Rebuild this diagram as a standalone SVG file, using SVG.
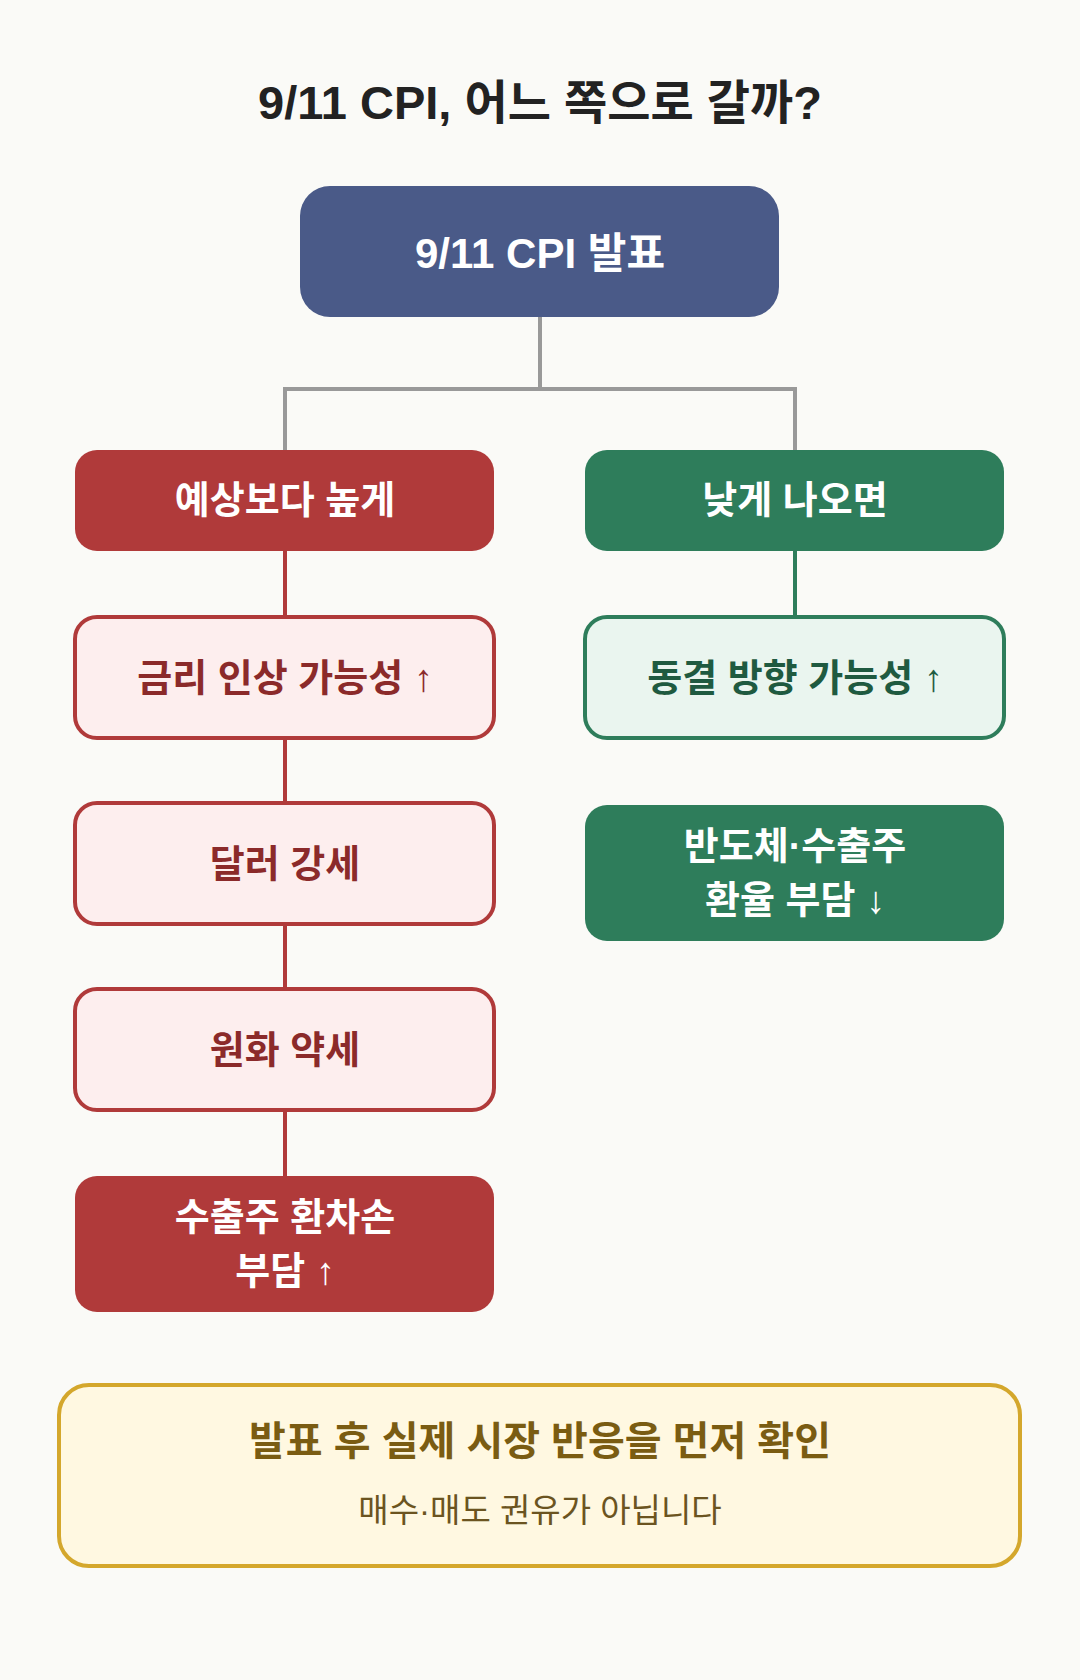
<svg xmlns="http://www.w3.org/2000/svg" width="1080" height="1680" viewBox="0 0 1080 1680">
<style>
text{font-family:"Liberation Sans","Noto Sans CJK KR",sans-serif;text-anchor:middle;dominant-baseline:central}
.t{font-size:47px;font-weight:bold;fill:#222}
.w{font-size:38px;font-weight:bold;fill:#fff}
.rl{font-size:38px;font-weight:bold;fill:#8b2a2a}
.gl{font-size:38px;font-weight:bold;fill:#1f5a40}
.conn{stroke:#999;stroke-width:4;fill:none}
.rc{stroke:#b03a3a;stroke-width:4;fill:none}
.gc{stroke:#2e7d5b;stroke-width:4;fill:none}
</style>
<rect width="1080" height="1680" fill="#fafaf7"/>
<text class="t" x="540" y="102">9/11 CPI, 어느 쪽으로 갈까?</text>
<g id="connectors">
<path class="conn" d="M540 317V389M285 450V389H795V450"/>
<path class="rc" d="M285 551V617M285 738V803M285 924V989M285 1110V1176"/>
<path class="gc" d="M795 551V617"/>
</g>
<g id="top"><rect x="300" y="186" width="479" height="131" rx="30" fill="#4a5a88"/><text class="w" x="540" y="253" style="font-size:42px">9/11 CPI 발표</text></g>
<g id="high"><rect x="75" y="450" width="419" height="101" rx="22" fill="#b03a3a"/><text class="w" x="285" y="500">예상보다 높게</text></g>
<g id="low"><rect x="585" y="450" width="419" height="101" rx="22" fill="#2e7d5b"/><text class="w" x="795" y="500">낮게 나오면</text></g>
<g id="rate"><rect x="75" y="617" width="419" height="121" rx="22" fill="#fdeeee" stroke="#b03a3a" stroke-width="4"/><text class="rl" x="285" y="678">금리 인상 가능성 ↑</text></g>
<g id="freeze"><rect x="585" y="617" width="419" height="121" rx="22" fill="#eaf5ef" stroke="#2e7d5b" stroke-width="4"/><text class="gl" x="795" y="678">동결 방향 가능성 ↑</text></g>
<g id="dollar"><rect x="75" y="803" width="419" height="121" rx="22" fill="#fdeeee" stroke="#b03a3a" stroke-width="4"/><text class="rl" x="285" y="864">달러 강세</text></g>
<g id="semi"><rect x="585" y="805" width="419" height="136" rx="22" fill="#2e7d5b"/><text class="w" x="795" y="846">반도체·수출주</text><text class="w" x="795" y="900">환율 부담 ↓</text></g>
<g id="won"><rect x="75" y="989" width="419" height="121" rx="22" fill="#fdeeee" stroke="#b03a3a" stroke-width="4"/><text class="rl" x="285" y="1050">원화 약세</text></g>
<g id="export"><rect x="75" y="1176" width="419" height="136" rx="22" fill="#b03a3a"/><text class="w" x="285" y="1217">수출주 환차손</text><text class="w" x="285" y="1271">부담 ↑</text></g>
<g id="note"><rect x="59" y="1385" width="961" height="181" rx="30" fill="#fff8e1" stroke="#d4a72c" stroke-width="4"/><text x="540" y="1441" style="font-size:40px;font-weight:bold;fill:#7a5c12">발표 후 실제 시장 반응을 먼저 확인</text><text x="540" y="1510" style="font-size:33px;fill:#6b5420">매수·매도 권유가 아닙니다</text></g>
</svg>
